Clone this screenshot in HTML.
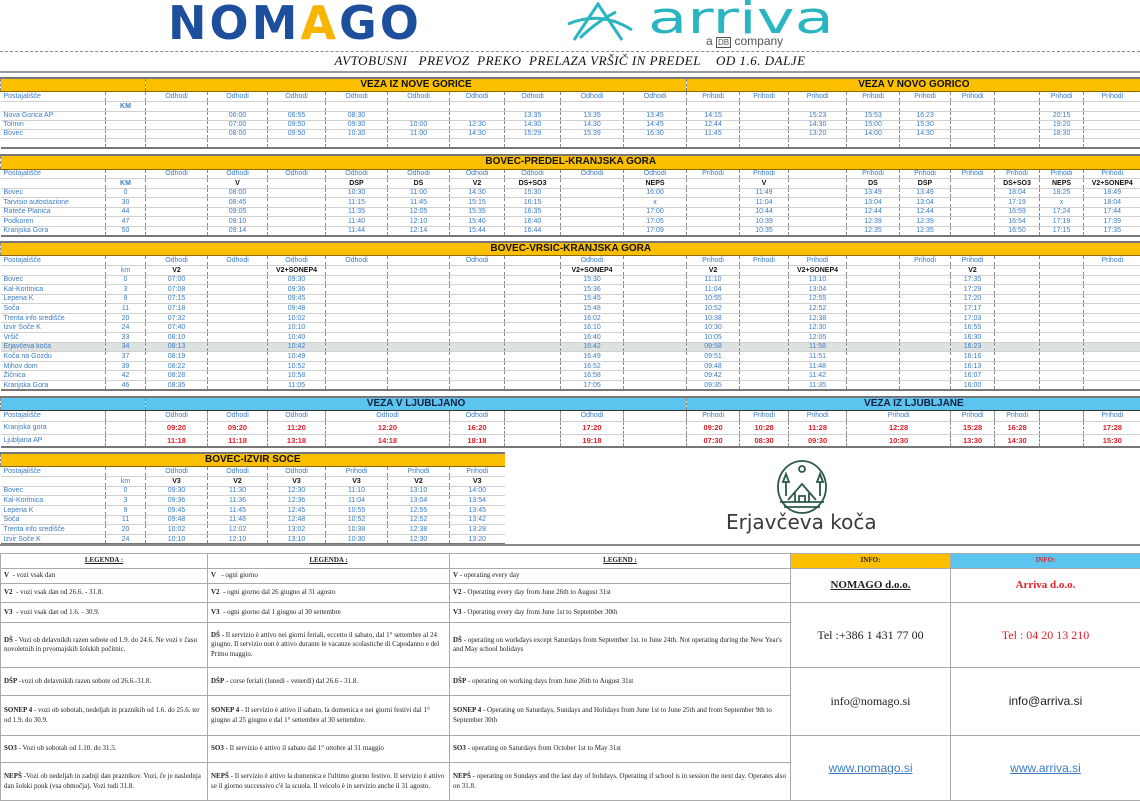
<!DOCTYPE html>
<html><head><meta charset="utf-8">
<style>
*{margin:0;padding:0;box-sizing:border-box}
body{width:1140px;height:800px;background:#fff;position:relative;overflow:hidden;font-family:"Liberation Sans",sans-serif}
table{position:absolute;left:0;width:1140px;border-collapse:collapse;table-layout:fixed;font-size:7px;color:#3b7cc4}
td{border-left:1px dashed #888;border-bottom:1px solid #d0d0d0;text-align:center;white-space:nowrap;overflow:hidden;padding:0;line-height:1}
td.s{text-align:left;padding-left:3px;border-left:none}
tr.y td{background:#fbbf00;color:#111;font-weight:bold;font-size:10px;border-bottom:1px solid #8a6a00;border-top:2px solid #777}
tr.b td{background:#5bc4ef;color:#102040;font-weight:bold;font-size:10px;border-bottom:1px solid #333;border-top:2px solid #777}
tr.l td{color:#111;font-weight:bold;font-size:7px}
tr.r td{color:#e0202a;font-weight:bold;font-size:7.5px}
tr.g td{background:#dde2e0}
.end{border-bottom:2px solid #777}
.leg{position:absolute;left:0;top:553px;width:1140px;height:247px;border-collapse:collapse;font-family:"Liberation Serif",serif;font-size:7px;color:#222}
.leg td{border:1px solid #aaa;text-align:left;vertical-align:middle;padding:1px 3px;white-space:normal;line-height:1.35}
.leg b{font-weight:bold}
</style></head><body>

<!-- logos -->
<div style="position:absolute;left:168px;top:-4px;font-size:46px;font-weight:bold;color:#1d4f9c;letter-spacing:3px;font-family:'DejaVu Sans',sans-serif">NOM<span style="color:#f7b500">A</span>GO</div>
<svg style="position:absolute;left:566px;top:2px" width="70" height="40" viewBox="0 0 70 40"><g fill="none" stroke="#2bb5c0" stroke-width="3"><path d="M8 38 L32 2 L56 38"/><path d="M2 22 Q35 8 66 28"/><path d="M14 36 Q30 20 50 10"/></g></svg>
<svg style="position:absolute;left:640px;top:0" width="210" height="36"><text x="8" y="33" font-size="44" fill="#2bb5c0" font-family="DejaVu Sans, sans-serif" textLength="186" lengthAdjust="spacingAndGlyphs">arriva</text></svg>
<div style="position:absolute;left:706px;top:35px;font-size:12px;line-height:12px;color:#555">a <span style="border:1px solid #555;font-size:8px;padding:0 1px">DB</span> company</div>

<div style="position:absolute;left:0;top:51px;width:1140px;border-top:1px dashed #888"></div>
<div style="position:absolute;left:0;top:53px;width:1140px;text-align:center;font-family:'Liberation Serif',serif;font-style:italic;font-size:13px;color:#111;letter-spacing:0.5px">AVTOBUSNI&nbsp;&nbsp; PREVOZ&nbsp; PREKO&nbsp; PRELAZA VRŠIČ IN PREDEL&nbsp;&nbsp;&nbsp; OD 1.6. DALJE</div>
<div style="position:absolute;left:0;top:71px;width:1140px;border-top:2px solid #999"></div>

<!-- Section 1 -->
<table style="top:77px">
<colgroup><col style="width:105px"><col style="width:40px"><col style="width:62px"><col style="width:60px"><col style="width:58px"><col style="width:62px"><col style="width:62px"><col style="width:55px"><col style="width:56px"><col style="width:63px"><col style="width:63px"><col style="width:53px"><col style="width:49px"><col style="width:58px"><col style="width:53px"><col style="width:51px"><col style="width:44px"><col style="width:45px"><col style="width:44px"><col style="width:57px"></colgroup>
<tr class="y" style="height:13px"><td colspan="2"></td><td colspan="9">VEZA IZ NOVE GORICE</td><td colspan="9">VEZA V NOVO GORICO</td></tr>
<tr style="height:10px"><td class="s">Postajališče</td><td></td><td>Odhodi</td><td>Odhodi</td><td>Odhodi</td><td>Odhodi</td><td>Odhodi</td><td>Odhodi</td><td>Odhodi</td><td>Odhodi</td><td>Odhodi</td><td>Prihodi</td><td>Prihodi</td><td>Prihodi</td><td>Prihodi</td><td>Prihodi</td><td>Prihodi</td><td></td><td>Prihodi</td><td>Prihodi</td></tr>
<tr style="height:10px"><td class="s"></td><td style="font-weight:bold">KM</td><td></td><td></td><td></td><td></td><td></td><td></td><td></td><td></td><td></td><td></td><td></td><td></td><td></td><td></td><td></td><td></td><td></td><td></td></tr>
<tr style="height:9px"><td class="s">Nova Gorica AP</td><td></td><td></td><td>06:00</td><td>06:55</td><td>08:30</td><td></td><td></td><td>13:35</td><td>13:35</td><td>13:45</td><td>14:15</td><td></td><td>15:23</td><td>15:53</td><td>16:23</td><td></td><td></td><td>20:15</td><td></td></tr>
<tr style="height:9px"><td class="s">Tolmin</td><td></td><td></td><td>07:00</td><td>09:50</td><td>09:30</td><td>10:00</td><td>12:30</td><td>14:30</td><td>14:30</td><td>14:45</td><td>12:44</td><td></td><td>14:30</td><td>15:00</td><td>15:30</td><td></td><td></td><td>19:20</td><td></td></tr>
<tr style="height:9px"><td class="s">Bovec</td><td></td><td></td><td>08:00</td><td>09:50</td><td>10:30</td><td>11:00</td><td>14:30</td><td>15:29</td><td>15:39</td><td>16:30</td><td>11:45</td><td></td><td>13:20</td><td>14:00</td><td>14:30</td><td></td><td></td><td>18:30</td><td></td></tr>
<tr style="height:10px" class="end"><td class="s end"></td><td class="end"></td><td class="end"></td><td class="end"></td><td class="end"></td><td class="end"></td><td class="end"></td><td class="end"></td><td class="end"></td><td class="end"></td><td class="end"></td><td class="end"></td><td class="end"></td><td class="end"></td><td class="end"></td><td class="end"></td><td class="end"></td><td class="end"></td><td class="end"></td><td class="end"></td></tr>
</table>

<!-- Section 2 -->
<table style="top:154px">
<colgroup><col style="width:105px"><col style="width:40px"><col style="width:62px"><col style="width:60px"><col style="width:58px"><col style="width:62px"><col style="width:62px"><col style="width:55px"><col style="width:56px"><col style="width:63px"><col style="width:63px"><col style="width:53px"><col style="width:49px"><col style="width:58px"><col style="width:53px"><col style="width:51px"><col style="width:44px"><col style="width:45px"><col style="width:44px"><col style="width:57px"></colgroup>
<tr class="y" style="height:14px"><td colspan="20">BOVEC-PREDEL-KRANJSKA GORA</td></tr>
<tr style="height:9px"><td class="s">Postajališče</td><td></td><td>Odhodi</td><td>Odhodi</td><td>Odhodi</td><td>Odhodi</td><td>Odhodi</td><td>Odhodi</td><td>Odhodi</td><td>Odhodi</td><td>Odhodi</td><td>Prihodi</td><td>Prihodi</td><td></td><td>Prihodi</td><td>Prihodi</td><td>Prihodi</td><td>Prihodi</td><td>Prihodi</td><td>Prihodi</td></tr>
<tr class="l" style="height:10px"><td class="s"></td><td style="color:#3b7cc4">KM</td><td></td><td>V</td><td></td><td>DŠP</td><td>DŠ</td><td>V2</td><td>DŠ+SO3</td><td></td><td>NEPŠ</td><td></td><td>V</td><td></td><td>DŠ</td><td>DŠP</td><td></td><td>DŠ+SO3</td><td>NEPŠ</td><td>V2+SONEP4</td></tr>
<tr style="height:9.6px"><td class="s">Bovec</td><td>0</td><td></td><td>08:00</td><td></td><td>10:30</td><td>11:00</td><td>14:30</td><td>15:30</td><td></td><td>16:00</td><td></td><td>11:49</td><td></td><td>13:49</td><td>13:49</td><td></td><td>18:04</td><td>18:25</td><td>18:49</td></tr>
<tr style="height:9.6px"><td class="s">Tarvisio autostazione</td><td>30</td><td></td><td>08:45</td><td></td><td>11:15</td><td>11:45</td><td>15:15</td><td>16:15</td><td></td><td>x</td><td></td><td>11:04</td><td></td><td>13:04</td><td>13:04</td><td></td><td>17:19</td><td>x</td><td>18:04</td></tr>
<tr style="height:9.6px"><td class="s">Rateče Planica</td><td>44</td><td></td><td>09:05</td><td></td><td>11:35</td><td>12:05</td><td>15:35</td><td>16:35</td><td></td><td>17:00</td><td></td><td>10:44</td><td></td><td>12:44</td><td>12:44</td><td></td><td>16:59</td><td>17:24</td><td>17:44</td></tr>
<tr style="height:9.6px"><td class="s">Podkoren</td><td>47</td><td></td><td>09:10</td><td></td><td>11:40</td><td>12:10</td><td>15:40</td><td>16:40</td><td></td><td>17:05</td><td></td><td>10:39</td><td></td><td>12:39</td><td>12:39</td><td></td><td>16:54</td><td>17:19</td><td>17:39</td></tr>
<tr style="height:9.6px"><td class="s end">Kranjska Gora</td><td class="end">50</td><td class="end"></td><td class="end">09:14</td><td class="end"></td><td class="end">11:44</td><td class="end">12:14</td><td class="end">15:44</td><td class="end">16:44</td><td class="end"></td><td class="end">17:09</td><td class="end"></td><td class="end">10:35</td><td class="end"></td><td class="end">12:35</td><td class="end">12:35</td><td class="end"></td><td class="end">16:50</td><td class="end">17:15</td><td class="end">17:35</td></tr>
</table>

<!-- Section 3 -->
<table style="top:241px">
<colgroup><col style="width:105px"><col style="width:40px"><col style="width:62px"><col style="width:60px"><col style="width:58px"><col style="width:62px"><col style="width:62px"><col style="width:55px"><col style="width:56px"><col style="width:63px"><col style="width:63px"><col style="width:53px"><col style="width:49px"><col style="width:58px"><col style="width:53px"><col style="width:51px"><col style="width:44px"><col style="width:45px"><col style="width:44px"><col style="width:57px"></colgroup>
<tr class="y" style="height:13px"><td colspan="20">BOVEC-VRŠIČ-KRANJSKA GORA</td></tr>
<tr style="height:10px"><td class="s">Postajališče</td><td></td><td>Odhodi</td><td>Odhodi</td><td>Odhodi</td><td>Odhodi</td><td></td><td>Odhodi</td><td></td><td>Odhodi</td><td></td><td>Prihodi</td><td>Prihodi</td><td>Prihodi</td><td></td><td>Prihodi</td><td>Prihodi</td><td></td><td></td><td>Prihodi</td></tr>
<tr class="l" style="height:10px"><td class="s"></td><td style="color:#3b7cc4;font-weight:normal">km</td><td>V2</td><td></td><td>V2+SONEP4</td><td></td><td></td><td></td><td></td><td>V2+SONEP4</td><td></td><td>V2</td><td></td><td>V2+SONEP4</td><td></td><td></td><td>V2</td><td></td><td></td><td></td></tr>
<tr style="height:9.6px"><td class="s">Bovec</td><td>0</td><td>07:00</td><td></td><td>09:30</td><td></td><td></td><td></td><td></td><td>15:30</td><td></td><td>11:10</td><td></td><td>13:10</td><td></td><td></td><td>17:35</td><td></td><td></td><td></td></tr>
<tr style="height:9.6px"><td class="s">Kal-Koritnica</td><td>3</td><td>07:08</td><td></td><td>09:36</td><td></td><td></td><td></td><td></td><td>15:36</td><td></td><td>11:04</td><td></td><td>13:04</td><td></td><td></td><td>17:29</td><td></td><td></td><td></td></tr>
<tr style="height:9.6px"><td class="s">Lepena K</td><td>9</td><td>07:15</td><td></td><td>09:45</td><td></td><td></td><td></td><td></td><td>15:45</td><td></td><td>10:55</td><td></td><td>12:55</td><td></td><td></td><td>17:20</td><td></td><td></td><td></td></tr>
<tr style="height:9.6px"><td class="s">Soča</td><td>11</td><td>07:18</td><td></td><td>09:48</td><td></td><td></td><td></td><td></td><td>15:48</td><td></td><td>10:52</td><td></td><td>12:52</td><td></td><td></td><td>17:17</td><td></td><td></td><td></td></tr>
<tr style="height:9.6px"><td class="s">Trenta info središče</td><td>20</td><td>07:32</td><td></td><td>10:02</td><td></td><td></td><td></td><td></td><td>16:02</td><td></td><td>10:38</td><td></td><td>12:38</td><td></td><td></td><td>17:03</td><td></td><td></td><td></td></tr>
<tr style="height:9.6px"><td class="s">Izvir Soče K</td><td>24</td><td>07:40</td><td></td><td>10:10</td><td></td><td></td><td></td><td></td><td>16:10</td><td></td><td>10:30</td><td></td><td>12:30</td><td></td><td></td><td>16:55</td><td></td><td></td><td></td></tr>
<tr style="height:9.6px"><td class="s">Vršič</td><td>33</td><td>08:10</td><td></td><td>10:40</td><td></td><td></td><td></td><td></td><td>16:40</td><td></td><td>10:05</td><td></td><td>12:05</td><td></td><td></td><td>16:30</td><td></td><td></td><td></td></tr>
<tr class="g" style="height:9.6px"><td class="s">Erjavčeva koča</td><td>34</td><td>08:13</td><td></td><td>10:42</td><td></td><td></td><td></td><td></td><td>16:42</td><td></td><td>09:58</td><td></td><td>11:58</td><td></td><td></td><td>16:23</td><td></td><td></td><td></td></tr>
<tr style="height:9.6px"><td class="s">Koča na Gozdu</td><td>37</td><td>08:19</td><td></td><td>10:49</td><td></td><td></td><td></td><td></td><td>16:49</td><td></td><td>09:51</td><td></td><td>11:51</td><td></td><td></td><td>16:16</td><td></td><td></td><td></td></tr>
<tr style="height:9.6px"><td class="s">Mihov dom</td><td>39</td><td>08:22</td><td></td><td>10:52</td><td></td><td></td><td></td><td></td><td>16:52</td><td></td><td>09:48</td><td></td><td>11:48</td><td></td><td></td><td>16:13</td><td></td><td></td><td></td></tr>
<tr style="height:9.6px"><td class="s">Žičnica</td><td>42</td><td>08:28</td><td></td><td>10:58</td><td></td><td></td><td></td><td></td><td>16:58</td><td></td><td>09:42</td><td></td><td>11:42</td><td></td><td></td><td>16:07</td><td></td><td></td><td></td></tr>
<tr style="height:9.6px"><td class="s end">Kranjska Gora</td><td class="end">46</td><td class="end">08:35</td><td class="end"></td><td class="end">11:05</td><td class="end"></td><td class="end"></td><td class="end"></td><td class="end"></td><td class="end">17:05</td><td class="end"></td><td class="end">09:35</td><td class="end"></td><td class="end">11:35</td><td class="end"></td><td class="end"></td><td class="end">16:00</td><td class="end"></td><td class="end"></td><td class="end"></td></tr>
</table>

<!-- Section 4 -->
<table style="top:396px">
<colgroup><col style="width:105px"><col style="width:40px"><col style="width:62px"><col style="width:60px"><col style="width:58px"><col style="width:62px"><col style="width:62px"><col style="width:55px"><col style="width:56px"><col style="width:63px"><col style="width:63px"><col style="width:53px"><col style="width:49px"><col style="width:58px"><col style="width:53px"><col style="width:51px"><col style="width:44px"><col style="width:45px"><col style="width:44px"><col style="width:57px"></colgroup>
<tr class="b" style="height:13px"><td colspan="2"></td><td colspan="9">VEZA V LJUBLJANO</td><td colspan="9">VEZA IZ LJUBLJANE</td></tr>
<tr style="height:11px"><td class="s">Postajališče</td><td></td><td>Odhodi</td><td>Odhodi</td><td>Odhodi</td><td colspan="2">Odhodi</td><td>Odhodi</td><td></td><td>Odhodi</td><td></td><td>Prihodi</td><td>Prihodi</td><td>Prihodi</td><td colspan="2">Prihodi</td><td>Prihodi</td><td>Prihodi</td><td></td><td>Prihodi</td></tr>
<tr class="r" style="height:13px"><td class="s" style="color:#3b7cc4;font-weight:normal;font-size:7px">Kranjska gora</td><td></td><td>09:20</td><td>09:20</td><td>11:20</td><td colspan="2">12:20</td><td>16:20</td><td></td><td>17:20</td><td></td><td>09:20</td><td>10:28</td><td>11:28</td><td colspan="2">12:28</td><td>15:28</td><td>16:28</td><td></td><td>17:28</td></tr>
<tr class="r" style="height:13px"><td class="s end" style="color:#3b7cc4;font-weight:normal;font-size:7px">Ljubljana AP</td><td class="end"></td><td class="end">11:18</td><td class="end">11:18</td><td class="end">13:18</td><td colspan="2" class="end">14:18</td><td class="end">18:18</td><td class="end"></td><td class="end">19:18</td><td class="end"></td><td class="end">07:30</td><td class="end">08:30</td><td class="end">09:30</td><td colspan="2" class="end">10:30</td><td class="end">13:30</td><td class="end">14:30</td><td class="end"></td><td class="end">15:30</td></tr>
</table>

<!-- Section 5 -->
<table style="top:452px;width:504px">
<colgroup><col style="width:105px"><col style="width:40px"><col style="width:62px"><col style="width:60px"><col style="width:58px"><col style="width:62px"><col style="width:62px"><col style="width:55px"></colgroup>
<tr class="y" style="height:13px"><td colspan="8">BOVEC-IZVIR SOČE</td></tr>
<tr style="height:10px"><td class="s">Postajališče</td><td></td><td>Odhodi</td><td>Odhodi</td><td>Odhodi</td><td>Prihodi</td><td>Prihodi</td><td>Prihodi</td></tr>
<tr class="l" style="height:10px"><td class="s"></td><td style="color:#3b7cc4;font-weight:normal">km</td><td>V3</td><td>V2</td><td>V3</td><td>V3</td><td>V2</td><td>V3</td></tr>
<tr style="height:9.7px"><td class="s">Bovec</td><td>0</td><td>09:30</td><td>11:30</td><td>12:30</td><td>11:10</td><td>13:10</td><td>14:00</td></tr>
<tr style="height:9.7px"><td class="s">Kal-Koritnica</td><td>3</td><td>09:36</td><td>11:36</td><td>12:36</td><td>11:04</td><td>13:04</td><td>13:54</td></tr>
<tr style="height:9.7px"><td class="s">Lepena K</td><td>9</td><td>09:45</td><td>11:45</td><td>12:45</td><td>10:55</td><td>12:55</td><td>13:45</td></tr>
<tr style="height:9.7px"><td class="s">Soča</td><td>11</td><td>09:48</td><td>11:48</td><td>12:48</td><td>10:52</td><td>12:52</td><td>13:42</td></tr>
<tr style="height:9.7px"><td class="s">Trenta info središče</td><td>20</td><td>10:02</td><td>12:02</td><td>13:02</td><td>10:38</td><td>12:38</td><td>13:28</td></tr>
<tr style="height:9.7px"><td class="s end">Izvir Soče K</td><td class="end">24</td><td class="end">10:10</td><td class="end">12:10</td><td class="end">13:10</td><td class="end">10:30</td><td class="end">12:30</td><td class="end">13:20</td></tr>
</table>
<div style="position:absolute;left:0;top:544px;width:1140px;border-top:2px solid #888"></div>

<!-- Erjavčeva koča logo -->
<svg style="position:absolute;left:776px;top:460px" width="52" height="54" viewBox="0 0 52 54"><g fill="none" stroke="#2d5a45" stroke-width="1.8"><ellipse cx="26" cy="27" rx="24" ry="26"/><circle cx="26" cy="9" r="3"/><path d="M12 40 L26 24 L40 40"/><path d="M19 42 V33 M33 42 V33"/><path d="M23 42 V36 H29 V42"/><path d="M7 22 L10 14 L13 22 Z M41 22 L44 14 L47 22 Z M10 22 V36 M44 22 V36"/><path d="M4 42 H48 M8 47 H44"/></g></svg>
<div style="position:absolute;left:726px;top:510px;font-size:20px;color:#3a3a3a;font-family:'DejaVu Sans',sans-serif">Erjavčeva koča</div>

<!-- Legend -->
<table class="leg">
<colgroup><col style="width:207px"><col style="width:242px"><col style="width:341px"><col style="width:160px"><col style="width:190px"></colgroup>
<tr style="height:15px"><td style="text-align:center"><b style="text-decoration:underline">LEGENDA :</b></td><td style="text-align:center"><b style="text-decoration:underline">LEGENDA :</b></td><td style="text-align:center"><b style="text-decoration:underline">LEGEND :</b></td><td style="text-align:center;background:#fbbf00"><b>INFO:</b></td><td style="text-align:center;background:#5bc4ef;color:#e0202a"><b>INFO:</b></td></tr>
<tr style="height:15px"><td><b>V</b> &nbsp;- vozi vsak dan</td><td><b>V</b> &nbsp;&nbsp;- ogni giorno</td><td><b>V</b> - operating every day</td><td rowspan="2" style="text-align:center;font-size:11px"><b style="text-decoration:underline">NOMAGO d.o.o.</b></td><td rowspan="2" style="text-align:center;font-size:11px;color:#e0202a"><b>Arriva d.o.o.</b></td></tr>
<tr style="height:19px"><td><b>V2</b> &nbsp;- vozi vsak dan od 26.6. - 31.8.</td><td><b>V2</b> &nbsp;- ogni giorno dal 26 giugno al 31 agosto</td><td><b>V2</b> - Operating every day from June 26th to August 31st</td></tr>
<tr style="height:20px"><td><b>V3</b> &nbsp;- vozi vsak dan od 1.6. - 30.9.</td><td><b>V3</b> &nbsp;- ogni giorno dal 1 giugno al 30 settembre</td><td><b>V3</b> - Operating every day from June 1st to September 30th</td><td rowspan="2" style="text-align:center;font-size:12px">Tel :+386 1 431 77 00</td><td rowspan="2" style="text-align:center;font-size:12px;color:#e0202a">Tel : 04 20 13 210</td></tr>
<tr style="height:45px"><td><b>DŠ</b> - Vozi ob delavnikih razen sobote od 1.9. do 24.6. Ne vozi v času novoletnih in prvomajskih šolskih počitnic.</td><td><b>DŠ</b> - Il servizio è attivo nei giorni feriali, eccetto il sabato, dal 1° settembre al 24 giugno. Il servizio non è attivo durante le vacanze scolastiche di Capodanno e del Primo maggio.</td><td><b>DŠ</b> - operating on workdays except Saturdays from September 1st. to June 24th. Not operating during the New Year's and May school holidays</td></tr>
<tr style="height:28px"><td><b>DŠP</b> -vozi ob delavnikih razen sobote od 26.6.-31.8.</td><td><b>DŠP</b> - corse feriali (lunedì - venerdì) dal 26.6 - 31.8.</td><td><b>DŠP</b> - operating on working days from June 26th to August 31st</td><td rowspan="2" style="text-align:center;font-size:12px">info@nomago.si</td><td rowspan="2" style="text-align:center;font-size:12px;font-family:'Liberation Sans',sans-serif">info@arriva.si</td></tr>
<tr style="height:40px"><td><b>SONEP 4</b> - vozi ob sobotah, nedeljah in praznikih od 1.6. do 25.6. ter od 1.9. do 30.9.</td><td><b>SONEP 4</b> - Il servizio è attivo il sabato, la domenica e nei giorni festivi dal 1° giugno al 25 giugno e dal 1° settembre al 30 settembre.</td><td><b>SONEP 4</b> - Operating on Saturdays, Sundays and Holidays from June 1st to June 25th and from September 9th to September 30th</td></tr>
<tr style="height:27px"><td><b>SO3</b> - Vozi ob sobotah od 1.10. do 31.5.</td><td><b>SO3</b> - Il servizio è attivo il sabato dal 1° ottobre al 31 maggio</td><td><b>SO3</b> - operating on Saturdays from October 1st to May 31st</td><td rowspan="2" style="text-align:center;font-size:12px;font-family:'Liberation Sans',sans-serif;color:#3b7cc4;text-decoration:underline">www.nomago.si</td><td rowspan="2" style="text-align:center;font-size:12px;font-family:'Liberation Sans',sans-serif;color:#3b7cc4;text-decoration:underline">www.arriva.si</td></tr>
<tr style="height:38px"><td><b>NEPŠ</b> -Vozi ob nedeljah in zadnji dan praznikov. Vozi, če je naslednja dan šolski pouk (vsa območja). Vozi tudi 31.8.</td><td><b>NEPŠ</b> - Il servizio è attivo la domenica e l'ultimo giorno festivo. Il servizio è attivo se il giorno successivo c'è la scuola. Il veicolo è in servizio anche il 31 agosto.</td><td><b>NEPŠ</b> - operating on Sundays and the last day of holidays. Operating if school is in session the next day. Operates also on 31.8.</td></tr>
</table>
</body></html>
